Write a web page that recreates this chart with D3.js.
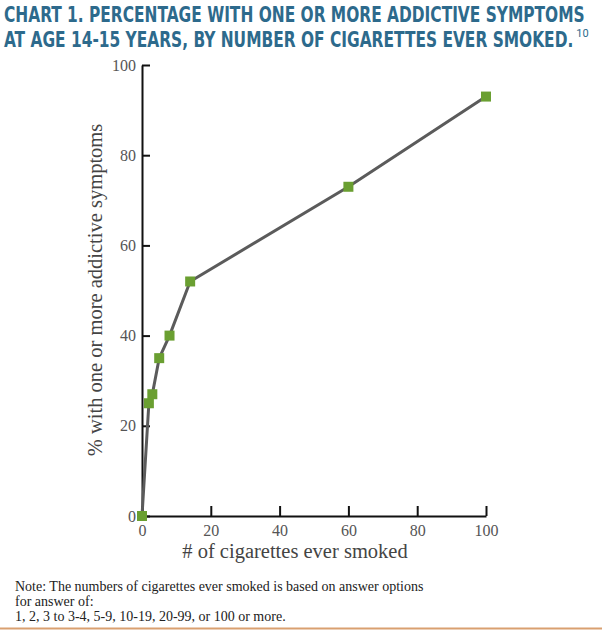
<!DOCTYPE html>
<meta charset="utf-8">
<style>
  body { margin: 0; background: #fff; }
  .title { font-family: 'Liberation Sans Narrow', 'DejaVu Sans Condensed', 'Roboto', sans-serif; font-weight: bold; fill: #2d6a8c; font-size: 21px; }
  .tick text { font-family: 'Liberation Serif', 'DejaVu Serif', serif; font-size: 16px; fill: #555; }
  .lab { font-family: 'Liberation Serif', 'DejaVu Serif', serif; font-size: 20.5px; fill: #444; }
  .note { font-family: 'Liberation Serif', 'DejaVu Serif', serif; font-size: 14px; fill: #222; }
</style>
<script src="https://d3js.org/d3.v7.min.js"></script>
<div id="chart"></div>
<script>
// data
var cigarettes = [0, 2, 3, 5, 8, 14, 60, 100];
var pctSymptoms = [0, 25, 27, 35, 40, 52, 73, 93];
var xTicks = [0, 20, 40, 60, 80, 100];
var yTicks = [0, 20, 40, 60, 80, 100];
var titleLines = ["CHART 1. PERCENTAGE WITH ONE OR MORE ADDICTIVE SYMPTOMS",
                  "AT AGE 14-15 YEARS, BY NUMBER OF CIGARETTES EVER SMOKED."];
var noteLines = ["Note: The numbers of cigarettes ever smoked is based on answer options",
                 "for answer of:",
                 "1, 2, 3 to 3-4, 5-9, 10-19, 20-99, or 100 or more."];

var W = 602, H = 630;
var svg = d3.select("#chart").append("svg")
    .attr("width", W)
    .attr("height", H);

// title: squeeze horizontally so line 1 fills the width
var tg = svg.append("g");
var t1 = tg.append("text").attr("class", "title")
  .attr("x", 0).attr("y", 22)
  .text(titleLines[0]);
var t2 = tg.append("text").attr("class", "title")
  .attr("x", 0).attr("y", 47)
  .text(titleLines[1]);
var sx = 581 / t1.node().getComputedTextLength();
tg.attr("transform", "translate(4,0) scale(" + sx + ",1)");
var t2end = 4 + sx * t2.node().getComputedTextLength();
svg.append("text")
  .attr("x", t2end + 3).attr("y", 37)
  .style("font-family", "'Roboto', sans-serif")
  .style("font-size", "11px")
  .attr("fill", "#2d6a8c")
  .text("10");

// scales
var x = d3.scaleLinear().domain([0, 100]).range([142, 486]);
var y = d3.scaleLinear().domain([0, 100]).range([516, 65]);

// x axis
var xAxis = svg.append("g")
  .attr("transform", "translate(0," + y(0) + ")")
  .call(d3.axisBottom(x).tickValues(xTicks).tickSizeInner(-10).tickSizeOuter(0).tickPadding(9));
xAxis.select(".domain").attr("stroke", "#111").attr("stroke-width", 2);
xAxis.selectAll(".tick line").attr("stroke", "#111").attr("stroke-width", 2);

// y axis
var yAxis = svg.append("g")
  .attr("transform", "translate(" + x(0) + ",0)")
  .call(d3.axisLeft(y).tickValues(yTicks).tickSizeInner(-8).tickSizeOuter(0).tickPadding(6));
yAxis.select(".domain").attr("stroke", "#111").attr("stroke-width", 2);
yAxis.selectAll(".tick line").attr("stroke", "#111").attr("stroke-width", 2);
yAxis.selectAll(".tick text").filter(function(d) { return d === 0; }).attr("fill", "#999");

// axis labels
svg.append("text").attr("class", "lab")
  .attr("x", 295).attr("y", 558)
  .attr("text-anchor", "middle")
  .text("# of cigarettes ever smoked");
svg.append("text").attr("class", "lab")
  .attr("transform", "translate(102," + 290 + ")rotate(-90)")
  .attr("text-anchor", "middle")
  .text("% with one or more addictive symptoms");

// line
var pts = cigarettes.map(function(c, i) { return [c, pctSymptoms[i]]; });
svg.append("path")
  .datum(pts)
  .attr("fill", "none")
  .attr("stroke", "#5b5b5b")
  .attr("stroke-width", 3)
  .attr("d", d3.line().x(function(d) { return x(d[0]); }).y(function(d) { return y(d[1]); }));

// markers
svg.append("g").selectAll("rect")
  .data(pts)
  .enter().append("rect")
    .attr("x", function(d) { return x(d[0]) - 5; })
    .attr("y", function(d) { return y(d[1]) - 5; })
    .attr("width", 10)
    .attr("height", 10)
    .attr("fill", "#6a9f31");

// note
svg.append("g").selectAll("text")
  .data(noteLines)
  .enter().append("text")
    .attr("class", "note")
    .attr("x", 15)
    .attr("y", function(d, i) { return 591 + i * 15; })
    .text(function(d) { return d; });

// bottom rule
svg.append("line")
  .attr("x1", 0).attr("x2", W)
  .attr("y1", 628.5).attr("y2", 628.5)
  .attr("stroke", "#d9a070")
  .attr("stroke-width", 2);
</script>
